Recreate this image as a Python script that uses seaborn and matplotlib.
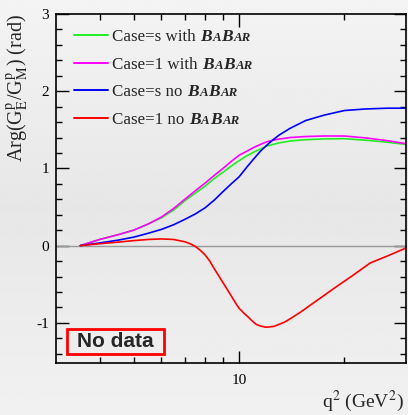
import numpy as np
import pandas as pd
import seaborn as sns
import matplotlib.pyplot as plt
from matplotlib.patches import Rectangle
from matplotlib.ticker import FixedLocator, FixedFormatter, NullFormatter, MultipleLocator

sns.set_style("ticks")
plt.rcParams["font.family"] = ["Liberation Serif", "DejaVu Serif"]
plt.rcParams["mathtext.fontset"] = "stix"

# values (q^2 in GeV^2, phase in rad)
q2 = [3.52, 3.75, 4.0, 4.5, 5.0, 5.5, 6.0, 6.5, 7.0, 7.5, 8.0, 8.5, 9.0, 9.5, 10.0, 10.5,
      11.0, 11.5, 12.0, 12.5, 13.0, 14.0, 15.5, 17.5, 20.0, 23.0, 26.5, 30.0]
arg_s_with = [0, 0.04, 0.08, 0.14, 0.20, 0.28, 0.36, 0.46, 0.58, 0.68, 0.77, 0.87, 0.95, 1.03,
              1.10, 1.16, 1.21, 1.25, 1.29, 1.31, 1.33, 1.355, 1.372, 1.382, 1.385, 1.365,
              1.34, 1.31]
arg_1_with = [0, 0.04, 0.08, 0.14, 0.20, 0.28, 0.37, 0.48, 0.60, 0.71, 0.81, 0.91, 1.00, 1.09,
              1.17, 1.22, 1.27, 1.31, 1.345, 1.365, 1.38, 1.40, 1.413, 1.42, 1.42, 1.395,
              1.36, 1.32]
arg_s_no = [0, 0.017, 0.035, 0.07, 0.11, 0.16, 0.21, 0.27, 0.34, 0.41, 0.49, 0.59, 0.70, 0.80,
            0.89, 1.01, 1.12, 1.22, 1.30, 1.37, 1.43, 1.52, 1.62, 1.69, 1.75, 1.77, 1.78, 1.78]

q2_red = [3.52, 4.0, 4.5, 5.0, 5.5, 6.0, 6.5, 7.0, 7.25, 7.5, 7.75, 8.0, 8.25, 8.5, 8.75,
          9.0, 9.25, 9.5, 9.75, 10.0, 10.3, 10.6, 10.9, 11.2, 11.5, 11.9, 12.2, 12.6, 13.5,
          14.2, 15.0, 17.0, 19.0, 21.0, 23.7, 27.0, 30.0]
arg_1_no = [0, 0.025, 0.045, 0.065, 0.08, 0.087, 0.08, 0.05, 0.025, -0.01, -0.06, -0.12, -0.20,
            -0.30, -0.39, -0.48, -0.565, -0.65, -0.735, -0.81, -0.87, -0.92, -0.975, -1.02,
            -1.04, -1.056, -1.053, -1.045, -0.99, -0.93, -0.86, -0.685, -0.53, -0.395, -0.225,
            -0.12, -0.03]

cases = ["Case=s with", "Case=1 with", "Case=s no", "Case=1 no"]
colors = ["#22ee22", "#ff00ff", "#0000ff", "#ff0000"]

df = pd.concat([
    pd.DataFrame({"q2": q2, "arg": arg_s_with, "case": cases[0]}),
    pd.DataFrame({"q2": q2, "arg": arg_1_with, "case": cases[1]}),
    pd.DataFrame({"q2": q2, "arg": arg_s_no, "case": cases[2]}),
    pd.DataFrame({"q2": q2_red, "arg": arg_1_no, "case": cases[3]}),
])

W, H = 408, 415
fig = plt.figure(figsize=(W / 100, H / 100), dpi=100)

# gray gradient background, ROOT-like
bg = fig.add_axes([0, 0, 1, 1], zorder=-10)
shade = np.interp(np.linspace(0, 1, 200), [0, 0.5, 1], [0.955, 0.905, 0.945])
bg.imshow(shade[:, None], aspect="auto", cmap="gray", vmin=0, vmax=1, extent=[0, 1, 0, 1])
bg.axis("off")

ax = fig.add_axes([56 / W, 1 - 363 / H, 350 / W, 349 / H])
ax.patch.set_alpha(0)

ax.axhline(0, color="#999999", lw=1, zorder=1)
sns.lineplot(data=df, x="q2", y="arg", hue="case", hue_order=cases,
             palette=dict(zip(cases, colors)), estimator=None, sort=True,
             linewidth=1.2, ax=ax)

ax.set_xscale("log")
ax.set_xlim(3, 30)
ax.set_ylim(-1.52, 3)

ax.xaxis.set_major_locator(FixedLocator([10]))
ax.xaxis.set_major_formatter(FixedFormatter(["10"]))
ax.xaxis.set_minor_locator(FixedLocator([4, 5, 6, 7, 8, 9, 20]))
ax.xaxis.set_minor_formatter(NullFormatter())
ax.yaxis.set_major_locator(FixedLocator([-1, 0, 1, 2, 3]))
ax.yaxis.set_major_formatter(FixedFormatter(["-1", "0", "1", "2", "3"]))
ax.yaxis.set_minor_locator(MultipleLocator(0.2))

ax.tick_params(which="both", direction="in", top=True, right=True, width=1, colors="black",
               labelsize=11)
ax.tick_params(which="major", length=9)
ax.tick_params(which="minor", length=4.5)
ax.tick_params(axis="x", pad=8)
ax.tick_params(axis="y", pad=5)
for sp in ax.spines.values():
    sp.set_linewidth(1.2)
    sp.set_color("black")

ax.set_ylabel(r"Arg(G$_{\rm E}^{\rm p}$/G$_{\rm M}^{\rm p}$) (rad)", fontsize=14.5, loc="top")
ax.yaxis.set_label_coords(-0.07, 1.0)
ax.set_xlabel(r"q$^{2}$ (GeV$^{2}$)", fontsize=14, loc="right")
ax.xaxis.set_label_coords(0.995, -0.074)

handles, labels = ax.get_legend_handles_labels()
leg = ax.legend(handles, labels, loc="upper left", bbox_to_anchor=(0.051, 0.957),
                frameon=False, fontsize=12.2, handlelength=2.0, handletextpad=0.25,
                labelspacing=0.68, borderpad=0, borderaxespad=0)
for line in leg.get_lines():
    line.set_linewidth(1.4)

# BaBar logo-style text after each legend entry
for t in leg.get_texts():
    prev = t
    for i, (s, size) in enumerate([("B", 12.5), ("A", 9.3), ("B", 12.5), ("AR", 9.3)]):
        ann = ax.annotate(s, xy=(1, 0), xycoords=(prev, t),
                          xytext=(3.5 if i == 0 else 0.3, 2.7), textcoords="offset points",
                          fontsize=size, fontweight="bold", fontstyle="italic",
                          ha="left", va="baseline", zorder=6, annotation_clip=False)
        prev = ann

# "No data" box
ax.add_patch(Rectangle((11 / 350, 9 / 349), 97 / 350, 25 / 349, transform=ax.transAxes,
                       fill=False, edgecolor="#ff0000", linewidth=2, zorder=6))
ax.text(0.170, 0.0616, "No data", transform=ax.transAxes, ha="center", va="center",
        fontsize=15, fontweight="bold", family=["Liberation Sans", "DejaVu Sans"], zorder=6)

fig.canvas.draw()
fig.savefig("out.png", dpi=100)
